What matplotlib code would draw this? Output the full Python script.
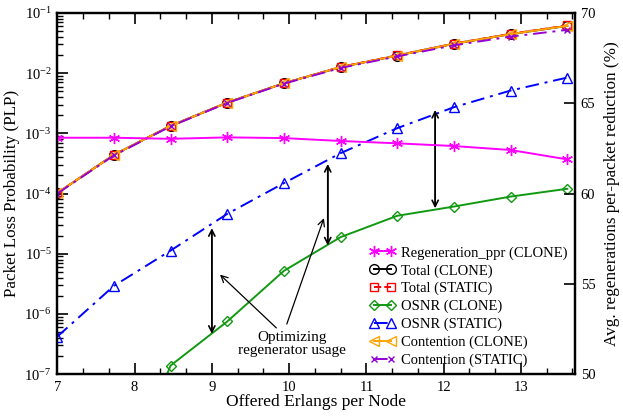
import numpy as np
import matplotlib
matplotlib.use("Agg")
import matplotlib.pyplot as plt
from matplotlib.ticker import MultipleLocator, LogLocator, NullFormatter

plt.rcParams['font.family'] = ['Liberation Serif', 'DejaVu Serif']
plt.rcParams['mathtext.fontset'] = 'custom'
plt.rcParams['mathtext.rm'] = 'Liberation Serif'
plt.rcParams['mathtext.it'] = 'Liberation Serif:italic'

# offered load (Erlangs per node)
load = [7.0, 7.733, 8.467, 9.2, 9.933, 10.667, 11.4, 12.133, 12.867, 13.6]

# packet loss probability
total_clone = [1.02e-4, 4.4e-4, 1.33e-3, 3.25e-3, 6.8e-3, 1.26e-2, 1.96e-2, 3.07e-2, 4.45e-2, 6.1e-2]
total_static = [1.02e-4, 4.4e-4, 1.33e-3, 3.25e-3, 6.8e-3, 1.27e-2, 1.98e-2, 3.1e-2, 4.5e-2, 6.2e-2]
osnr_clone = [np.nan, 8e-10, 1.39e-7, 7.5e-7, 5.2e-6, 1.89e-5, 4.27e-5, 6.08e-5, 8.9e-5, 1.2e-4]
osnr_static = [4.2e-7, 2.93e-6, 1.13e-5, 4.6e-5, 1.49e-4, 4.69e-4, 1.22e-3, 2.72e-3, 5.14e-3, 8.45e-3]
cont_clone = [1.02e-4, 4.4e-4, 1.33e-3, 3.25e-3, 6.8e-3, 1.26e-2, 1.96e-2, 3.07e-2, 4.45e-2, 6.1e-2]
cont_static = [1.0e-4, 4.3e-4, 1.31e-3, 3.2e-3, 6.7e-3, 1.22e-2, 1.9e-2, 2.9e-2, 4.05e-2, 5.24e-2]

# regenerations per packet reduction (%)
regen_ppr = [63.09, 63.09, 63.03, 63.11, 63.07, 62.91, 62.78, 62.63, 62.41, 61.89]

# vertical gap arrows (x, upper PLP, lower PLP)
gap_x = [9.0, 10.5, 11.89]
gap_hi = [2.66e-5, 3.1e-4, 2.45e-3]
gap_lo = [4.67e-7, 1.37e-5, 5.7e-5]

fig = plt.figure(figsize=(6.23, 4.18), dpi=100)
ax = fig.add_axes([0.092, 0.105, 0.831, 0.864])
ax2 = ax.twinx()

lw = 1.4
ms = 7
ax.plot(load, total_clone, '-', color='black', lw=lw, marker='o', ms=ms, mfc='none', label='Total (CLONE)')
ax.plot(load, total_static, '--', color='red', lw=lw, marker='s', ms=ms - 1, mfc='none', label='Total (STATIC)')
ax.plot(load, osnr_clone, '-', color='#119911', lw=lw, marker='D', ms=ms - 2, mfc='none', label='OSNR (CLONE)')
ax.plot(load, osnr_static, '-.', color='blue', lw=lw, marker='^', ms=ms, mfc='none', label='OSNR (STATIC)',
        dashes=(7, 3, 1.5, 3))
ax.plot(load, cont_clone, '-', color='orange', lw=lw, marker='<', ms=ms, mfc='none', label='Contention (CLONE)')
ax.plot(load, cont_static, '-.', color='#9400d3', lw=lw, marker='x', ms=ms - 2, label='Contention (STATIC)',
        dashes=(7, 3, 1.5, 3))

ax2.plot(load, regen_ppr, '-', color='#ff00ff', lw=lw, marker=(6, 2, 0), ms=8, label='Regeneration_ppr (CLONE)')

for x, hi, lo in zip(gap_x, gap_hi, gap_lo):
    ax.annotate('', xy=(x, hi), xytext=(x, lo),
                arrowprops=dict(arrowstyle='<->', color='black', lw=1.2,
                                shrinkA=0, shrinkB=0, mutation_scale=11))
    ax.plot([x, x], [lo * 1.2, hi / 1.2], color='#666666', lw=1.4)

ax.annotate('Optimizing\nregenerator usage', xy=(9.105, 4.5e-6), xytext=(10.04, 3.2e-7),
            ha='center', va='center', fontsize=11, linespacing=1.0,
            arrowprops=dict(arrowstyle='->', color='black', lw=0.9, shrinkA=0, shrinkB=0,
                            relpos=(0.38, 1.0), mutation_scale=12))
ax.annotate('', xy=(10.45, 3.9e-5), xytext=(9.97, 6.8e-7),
            arrowprops=dict(arrowstyle='->', color='black', lw=0.9, shrinkA=0, shrinkB=0,
                            mutation_scale=12))

ax.set_yscale('log')
ax.set_xlim(7, 13.7)
ax.set_ylim(1e-7, 1e-1)
ax2.set_ylim(50, 70)

ax.xaxis.set_major_locator(MultipleLocator(1))
ax.xaxis.set_minor_locator(MultipleLocator(1 / 3))
ax.yaxis.set_major_locator(LogLocator(base=10, numticks=10))
ax.yaxis.set_minor_locator(LogLocator(base=10, subs=np.arange(2, 10), numticks=20))
ax.yaxis.set_minor_formatter(NullFormatter())
ax2.yaxis.set_major_locator(MultipleLocator(5))

ax.tick_params(axis='x', which='both', direction='in', top=True, labelsize=10.5, pad=5)
ax.tick_params(axis='y', which='both', direction='in', right=False, labelsize=10.5, pad=4)
ax.tick_params(which='major', length=8, width=1.2)
ax.tick_params(which='minor', length=4, width=1.0)
ax2.tick_params(axis='y', direction='in', length=8, width=1.2, labelsize=10.5, pad=4)

for a in (ax, ax2):
    for s in a.spines.values():
        s.set_linewidth(1.6)

ax.set_xlabel('Offered Erlangs per Node', fontsize=12.5, labelpad=0)
ax.set_ylabel('Packet Loss Probability (PLP)', fontsize=12.3, labelpad=3)
ax2.set_ylabel('Avg. regenerations per-packet reduction (%)', fontsize=12.3, labelpad=6)

h1, l1 = ax.get_legend_handles_labels()
h2, l2 = ax2.get_legend_handles_labels()
leg = ax2.legend(h2 + h1, l2 + l1, loc='lower right', frameon=False, fontsize=10.5,
                 numpoints=2, handlelength=1.8, handletextpad=0.4, labelspacing=0.3,
                 borderaxespad=0.1)

fig.savefig('out.png', dpi=100)
